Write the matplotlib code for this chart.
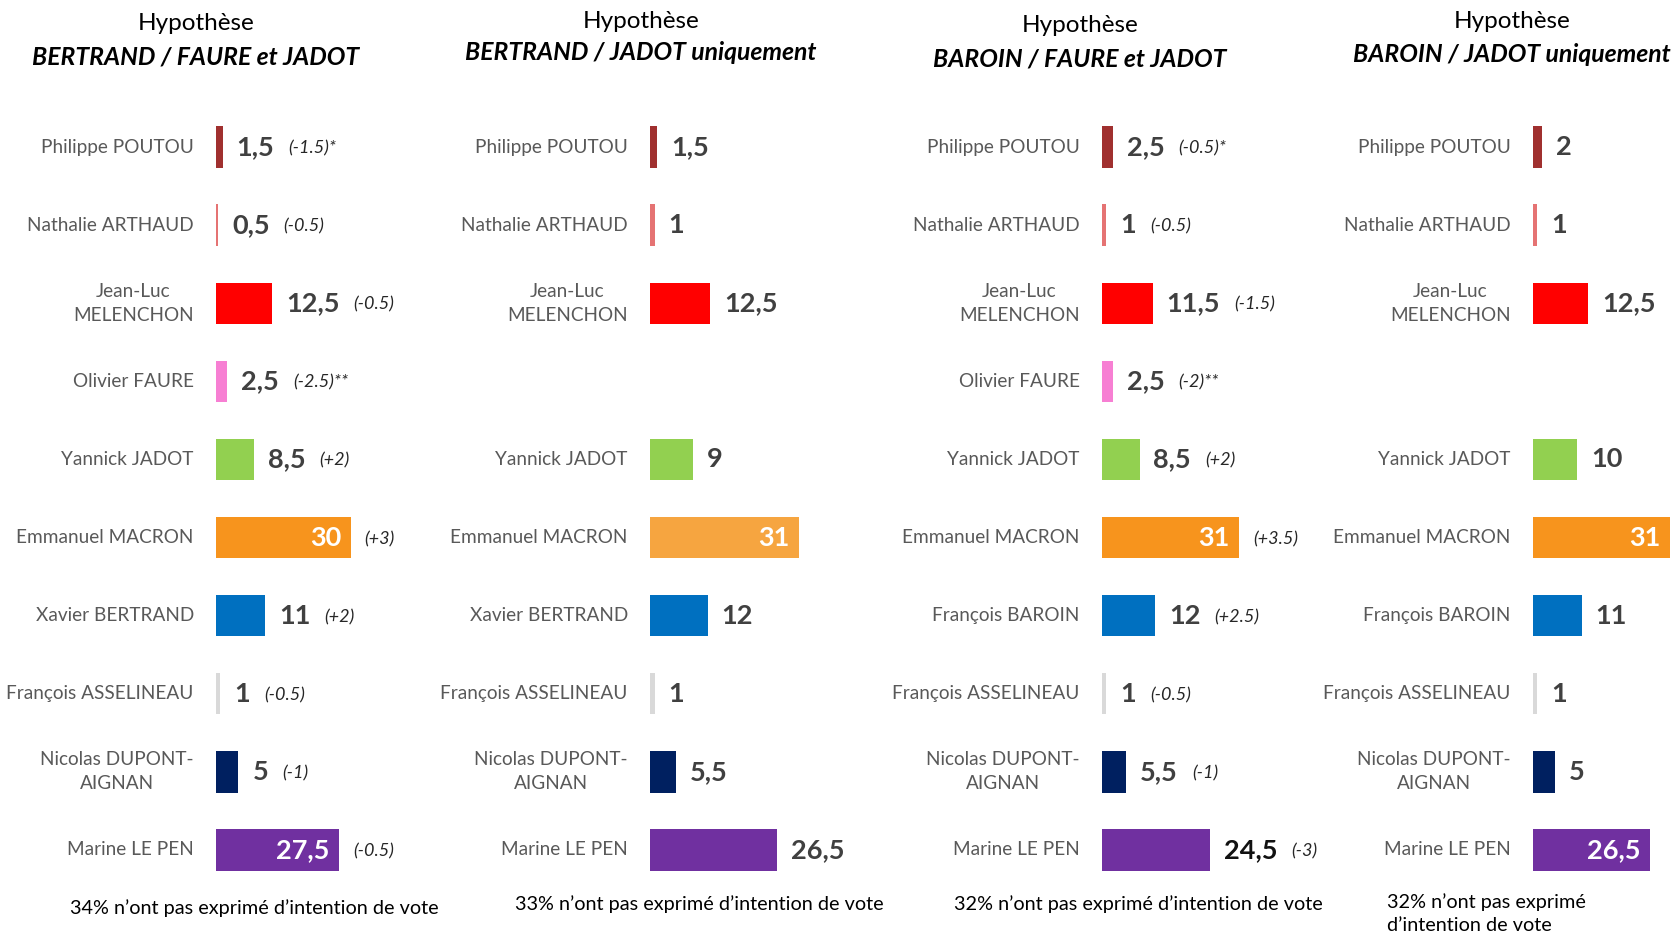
import matplotlib
matplotlib.use('Agg')
import matplotlib.pyplot as plt
import numpy as np

plt.rcParams['font.family'] = ['Lato', 'DejaVu Sans']

# candidates (rows, top to bottom)
names_bertrand = ['Philippe POUTOU', 'Nathalie ARTHAUD', 'Jean-Luc\nMELENCHON', 'Olivier FAURE',
                  'Yannick JADOT', 'Emmanuel MACRON', 'Xavier BERTRAND', 'François ASSELINEAU',
                  'Nicolas DUPONT-\nAIGNAN', 'Marine LE PEN']
names_baroin = ['Philippe POUTOU', 'Nathalie ARTHAUD', 'Jean-Luc\nMELENCHON', 'Olivier FAURE',
                'Yannick JADOT', 'Emmanuel MACRON', 'François BAROIN', 'François ASSELINEAU',
                'Nicolas DUPONT-\nAIGNAN', 'Marine LE PEN']

# voting intentions per hypothesis (None = candidate not tested)
vals_1 = [1.5, 0.5, 12.5, 2.5, 8.5, 30, 11, 1, 5, 27.5]
vals_2 = [1.5, 1, 12.5, None, 9, 31, 12, 1, 5.5, 26.5]
vals_3 = [2.5, 1, 11.5, 2.5, 8.5, 31, 12, 1, 5.5, 24.5]
vals_4 = [2, 1, 12.5, None, 10, 31, 11, 1, 5, 26.5]

# evolution vs previous wave
deltas_1 = ['(-1.5)*', '(-0.5)', '(-0.5)', '(-2.5)**', '(+2)', '(+3)', '(+2)', '(-0.5)', '(-1)', '(-0.5)']
deltas_2 = [''] * 10
deltas_3 = ['(-0.5)*', '(-0.5)', '(-1.5)', '(-2)**', '(+2)', '(+3.5)', '(+2.5)', '(-0.5)', '(-1)', '(-3)']
deltas_4 = [''] * 10

titles = ['BERTRAND / FAURE et JADOT', 'BERTRAND / JADOT uniquement',
          'BAROIN / FAURE et JADOT', 'BAROIN / JADOT uniquement']
footnotes = ['34% n’ont pas exprimé d’intention de vote', '33% n’ont pas exprimé d’intention de vote',
             '32% n’ont pas exprimé d’intention de vote', '32% n’ont pas exprimé\nd’intention de vote']

colors = ['#A0302F', '#E57373', '#FF0000', '#F77FD3', '#92D050', '#F7941D',
          '#0070C0', '#D9D9D9', '#002060', '#7030A0']

W, H = 1679, 935
fig = plt.figure(figsize=(W / 100, H / 100), dpi=100)

# panel layout in pixels: bar origin x, axes width, px per point
panels = [
    dict(vals=vals_1, deltas=deltas_1, names=names_bertrand, x0=216, w=180, scale=4.49,
         inside=[5, 9], title_x=196, title_y=(24, 57), foot=(254, 908), mac='#F7941D'),
    dict(vals=vals_2, deltas=deltas_2, names=names_bertrand, x0=650, w=210, scale=4.8,
         inside=[5], title_x=641, title_y=(21, 53), foot=(699, 904), mac='#F6A540'),
    dict(vals=vals_3, deltas=deltas_3, names=names_baroin, x0=1102, w=200, scale=4.42,
         inside=[5], title_x=1080, title_y=(26, 59), foot=(1138, 904), mac='#F7941D'),
    dict(vals=vals_4, deltas=deltas_4, names=names_baroin, x0=1533, w=146, scale=4.42,
         inside=[5, 9], title_x=1512, title_y=(22, 54), foot=(1387, 893), mac='#F7941D'),
]

top_px, bot_px = 108, 889

for k, p in enumerate(panels):
    ax = fig.add_axes([p['x0'] / W, 1 - bot_px / H, p['w'] / W, (bot_px - top_px) / H])
    ax.set_xlim(0, p['w'] / p['scale'])
    ax.set_ylim(9.5, -0.5)
    ax.axis('off')

    for i, v in enumerate(p['vals']):
        if v is None:
            continue
        col = p['mac'] if i == 5 else colors[i]
        ax.barh(i, v, height=0.53, color=col)
        ax.annotate(p['names'][i], xy=(0, i), xytext=(-16, 0), textcoords='offset points',
                    ha='right', va='center', multialignment='center', fontsize=13.7,
                    color='#595959', linespacing=1.5)
        label = f'{v:g}'.replace('.', ',')
        if i in p['inside']:
            ax.annotate(label, xy=(v, i), xytext=(-7, 0), textcoords='offset points',
                        ha='right', va='center', fontsize=19.5, fontweight='bold', color='white')
            if p['deltas'][i]:
                ax.annotate(p['deltas'][i], xy=(v, i), xytext=(10, -1), textcoords='offset points',
                            ha='left', va='center', fontsize=13, style='italic', color='#262626')
        else:
            vcol = '#111111' if (k == 2 and i == 9) else '#404040'
            t = ax.annotate(label, xy=(v, i), xytext=(10, 0), textcoords='offset points',
                            ha='left', va='center', fontsize=19.5, fontweight='bold', color=vcol)
            if p['deltas'][i]:
                ax.annotate(p['deltas'][i], xy=(1, 0.5), xycoords=t, xytext=(10, -1),
                            textcoords='offset points', ha='left', va='center',
                            fontsize=13, style='italic', color='#262626')

    ty1, ty2 = p['title_y']
    fig.text(p['title_x'] / W, 1 - ty1 / H, 'Hypothèse', ha='center', va='center', fontsize=17.5)
    fig.text(p['title_x'] / W, 1 - ty2 / H, titles[k], ha='center', va='center', fontsize=17.8,
             fontweight='bold', style='italic')
    fx, fy = p['foot']
    if k == 3:
        fig.text(fx / W, 1 - fy / H, footnotes[k], ha='left', va='top', fontsize=14.3,
                 linespacing=1.45)
    else:
        fig.text(fx / W, 1 - fy / H, footnotes[k], ha='center', va='center', fontsize=14.3)

fig.savefig('out.png', dpi=100)
